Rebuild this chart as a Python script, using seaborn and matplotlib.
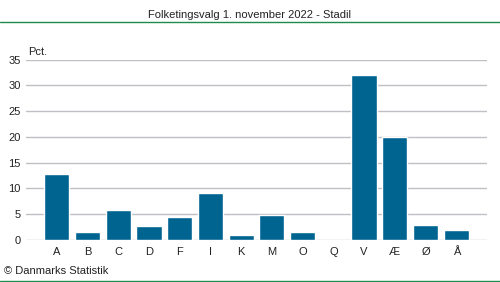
import matplotlib
matplotlib.use("Agg")
import matplotlib.pyplot as plt
import seaborn as sns
import pandas as pd
from matplotlib.lines import Line2D

# Party letters and vote shares (percent)
parties = ["A", "B", "C", "D", "F", "I", "K", "M", "O", "Q", "V", "Æ", "Ø", "Å"]
shares = [12.8, 1.55, 5.8, 2.7, 4.45, 9.1, 1.0, 4.9, 1.55, 0.0, 32.0, 19.9, 2.9, 1.9]
yticks = [0, 5, 10, 15, 20, 25, 30, 35]

title = "Folketingsvalg 1. november 2022 - Stadil"
unit = "Pct."
credit = "© Danmarks Statistik"

sns.set_theme(style="white")
plt.rcParams["font.family"] = ["Liberation Sans", "DejaVu Sans"]

df = pd.DataFrame({"parti": parties, "pct": shares})

fig = plt.figure(figsize=(5.0, 2.82), dpi=100)
ax = fig.add_axes([0.052, 0.149, 0.922, 0.640])

sns.barplot(data=df, x="parti", y="pct", order=parties, color="#006491",
            saturation=1, width=0.82, ax=ax, zorder=3)

ax.set_xlim(-1.0, 14.0)
ax.set_ylim(0, 35)
ax.set_yticks(yticks)
ax.set_yticklabels([str(v) for v in yticks])
ax.yaxis.grid(True, color="#bfbfc6", linewidth=1.0, zorder=0)
ax.set_axisbelow(True)
for s in ax.spines.values():
    s.set_visible(False)
ax.tick_params(axis="both", length=0, labelsize=8, colors="#222222")
ax.tick_params(axis="y", pad=4)
ax.tick_params(axis="x", pad=5)
ax.set_xlabel("")
ax.set_ylabel("")

fig.text(0.5, 0.948, title, ha="center", va="center", fontsize=8, color="#222222")
fig.add_artist(Line2D([0, 1], [0.922, 0.922], color="#1e8a4c", linewidth=1.0,
                      transform=fig.transFigure))
fig.text(0.056, 0.815, unit, ha="left", va="center", fontsize=8, color="#222222")
fig.text(0.008, 0.040, credit, ha="left", va="center", fontsize=8, color="#222222")
fig.add_artist(Line2D([0, 1], [0.004, 0.004], color="#1e8a4c", linewidth=1.0,
                      transform=fig.transFigure))

fig.savefig("out.png", dpi=100)
